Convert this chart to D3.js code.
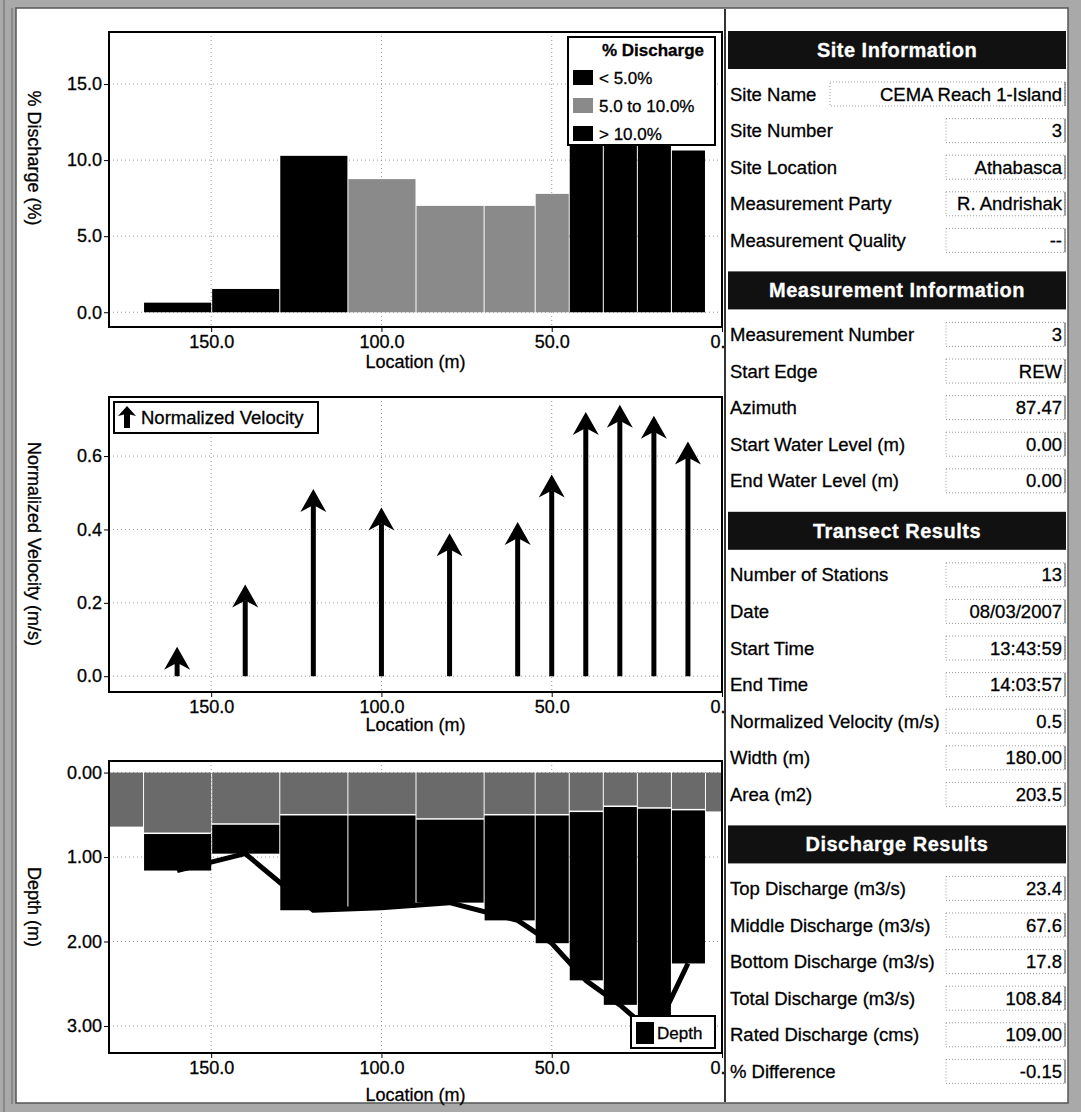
<!DOCTYPE html>
<html>
<head>
<meta charset="utf-8">
<script src="https://cdn.jsdelivr.net/npm/d3@7"></script>
<style>
  body { margin: 0; background: #fff; }
  text { font-family: "Liberation Sans", Arial, sans-serif; fill: #000; stroke: #000; stroke-width: 0.3px; }
</style>
</head>
<body>
<svg id="chart" width="1081" height="1112"></svg>
<script>
// station data (13 stations incl. the two edges)
const stations = [180, 160, 140, 120, 100, 80, 60, 50, 40, 30, 20, 10, 0];
const dischargePct = [null, 0.63, 1.53, 10.28, 8.75, 6.99, 6.99, 7.78, 13.9, 16.1, 16.4, 10.63, null];
const velocity = [null, 0.08, 0.25, 0.51, 0.46, 0.39, 0.42, 0.55, 0.72, 0.74, 0.71, 0.64, null];
const iceThickness = [0.64, 0.71, 0.60, 0.49, 0.49, 0.54, 0.49, 0.49, 0.45, 0.39, 0.41, 0.43, 0.46];
const depth = [null, 1.16, 0.96, 1.63, 1.60, 1.54, 1.75, 2.02, 2.46, 2.75, 3.10, 2.26, null];

const xTicks = [150, 100, 50, 0];
const dischargeTicks = [0, 5, 10, 15];
const velocityTicks = [0, 0.2, 0.4, 0.6];
const depthTicks = [0, 1, 2, 3];

const legendLabels = ["< 5.0%", "5.0 to 10.0%", "> 10.0%"];
const legendColors = ["#000", "#8a8a8a", "#000"];

const siteLabels = ["Site Name", "Site Number", "Site Location", "Measurement Party", "Measurement Quality"];
const siteValues = ["CEMA Reach 1-Island", "3", "Athabasca", "R. Andrishak", "--"];
const measLabels = ["Measurement Number", "Start Edge", "Azimuth", "Start Water Level (m)", "End Water Level (m)"];
const measValues = ["3", "REW", "87.47", "0.00", "0.00"];
const transectLabels = ["Number of Stations", "Date", "Start Time", "End Time", "Normalized Velocity (m/s)", "Width (m)", "Area (m2)"];
const transectValues = ["13", "08/03/2007", "13:43:59", "14:03:57", "0.5", "180.00", "203.5"];
const dischargeLabels = ["Top Discharge (m3/s)", "Middle Discharge (m3/s)", "Bottom Discharge (m3/s)", "Total Discharge (m3/s)", "Rated Discharge (cms)", "% Difference"];
const dischargeValues = ["23.4", "67.6", "17.8", "108.84", "109.00", "-0.15"];

const svg = d3.select("#chart");
const W = 1081, H = 1112;

// window-like border
svg.append("rect").attr("width", W).attr("height", H).attr("fill", "#a9a9a9");
svg.append("rect").attr("x", 16).attr("y", 8).attr("width", 1052).attr("height", 1095)
    .attr("fill", "#fff").attr("stroke", "#555").attr("stroke-width", 1.5);
svg.append("line").attr("x1", 4).attr("x2", 4).attr("y1", 0).attr("y2", H).attr("stroke", "#666");
svg.append("line").attr("x1", 12).attr("x2", 12).attr("y1", 8).attr("y2", H - 8).attr("stroke", "#666");

const x = d3.scaleLinear().domain([180, 0]).range([109, 722]);
const n = stations.length;
const leftOf = i => i === 0 ? stations[0] : (stations[i - 1] + stations[i]) / 2;
const rightOf = i => i === n - 1 ? stations[n - 1] : (stations[i] + stations[i + 1]) / 2;

const rows = stations.map((s, i) => ({
    s, i, left: leftOf(i), right: rightOf(i),
    q: dischargePct[i], v: velocity[i], ice: iceThickness[i], d: depth[i]
}));

const xFmt = d => d === 0 ? "0." : d3.format(".1f")(d);

function drawFrame(g, y, top, bottom, yTicks, yFmt, yTitle, titleY, xTitleY) {
    // grid
    g.selectAll("line.hgrid").data(yTicks).enter().append("line")
        .attr("x1", x.range()[0]).attr("x2", x.range()[1])
        .attr("y1", d => y(d)).attr("y2", d => y(d))
        .attr("stroke", "#999").attr("stroke-dasharray", "1,3");
    g.selectAll("line.vgrid").data(xTicks.filter(d => d !== 0)).enter().append("line")
        .attr("x1", d => x(d)).attr("x2", d => x(d))
        .attr("y1", top).attr("y2", bottom)
        .attr("stroke", "#999").attr("stroke-dasharray", "1,3");

    const ya = g.append("g").attr("transform", `translate(${x.range()[0]},0)`)
        .call(d3.axisLeft(y).tickValues(yTicks).tickSize(5).tickPadding(2).tickFormat(d3.format(yFmt)));
    const xa = g.append("g").attr("transform", `translate(0,${bottom})`)
        .call(d3.axisBottom(x).tickValues(xTicks).tickSize(5).tickPadding(3).tickFormat(xFmt));
    [ya, xa].forEach(a => {
        a.select(".domain").remove();
        a.selectAll("text").style("font-size", "18px").style("font-family", '"Liberation Sans", Arial, sans-serif');
        a.selectAll("line").attr("stroke", "#000");
    });
    // the "0." label sits against the info panel
    xa.selectAll(".tick").filter(d => d === 0).select("text")
        .attr("text-anchor", "end").attr("x", 3);

    g.append("text").attr("transform", `translate(34,${titleY}) rotate(90)`)
        .attr("text-anchor", "middle").attr("dominant-baseline", "central")
        .style("font-size", "18px").text(yTitle);
    g.append("text").attr("x", (x.range()[0] + x.range()[1]) / 2).attr("y", xTitleY)
        .attr("text-anchor", "middle").attr("dominant-baseline", "central")
        .style("font-size", "18px").text("Location (m)");
}

function clipFor(id, top, bottom) {
    svg.append("clipPath").attr("id", id).append("rect")
        .attr("x", x.range()[0]).attr("y", top)
        .attr("width", x.range()[1] - x.range()[0]).attr("height", bottom - top);
}

function border(g, top, bottom) {
    g.append("rect").attr("x", x.range()[0]).attr("y", top)
        .attr("width", x.range()[1] - x.range()[0]).attr("height", bottom - top)
        .attr("fill", "none").attr("stroke", "#000").attr("stroke-width", 2);
}

// ---------- % discharge ----------
const t1 = 32, b1 = 327;
const y1 = d3.scaleLinear().domain([-0.97, 18.42]).range([b1, t1]);
const colorQ = d3.scaleThreshold().domain([5, 10]).range(legendColors);
const g1 = svg.append("g");
drawFrame(g1, y1, t1, b1, dischargeTicks, ".1f", "% Discharge (%)", 158, 362);
clipFor("c1", t1, b1);
g1.append("g").attr("clip-path", "url(#c1)")
    .selectAll("rect").data(rows.filter(r => r.q != null)).enter().append("rect")
    .attr("x", r => x(r.left) + 1)
    .attr("width", r => x(r.right) - x(r.left) - 1)
    .attr("y", r => y1(r.q))
    .attr("height", r => y1(0) - y1(r.q))
    .attr("fill", r => colorQ(r.q));

const lg1 = g1.append("g");
lg1.append("rect").attr("x", 568).attr("y", 37).attr("width", 147).attr("height", 108)
    .attr("fill", "#fff").attr("stroke", "#000").attr("stroke-width", 2);
lg1.append("text").attr("x", 653).attr("y", 50).attr("text-anchor", "middle")
    .attr("dominant-baseline", "central").style("font-size", "17px").style("font-weight", "bold")
    .text("% Discharge");
legendLabels.forEach((l, i) => {
    const yy = 78 + i * 28;
    lg1.append("rect").attr("x", 573).attr("y", yy - 8).attr("width", 20).attr("height", 15)
        .attr("fill", legendColors[i]);
    lg1.append("text").attr("x", 599).attr("y", yy).attr("dominant-baseline", "central")
        .style("font-size", "17px").text(l);
});
border(g1, t1, b1);

// ---------- normalized velocity ----------
const t2 = 397, b2 = 692;
const y2 = d3.scaleLinear().domain([-0.043, 0.761]).range([b2, t2]);
const g2 = svg.append("g");
drawFrame(g2, y2, t2, b2, velocityTicks, ".1f", "Normalized Velocity (m/s)", 544, 725);
clipFor("c2", t2, b2);
const arrows = g2.append("g").attr("clip-path", "url(#c2)")
    .selectAll("g").data(rows.filter(r => r.v != null)).enter().append("g");
arrows.append("line")
    .attr("x1", r => x(r.s)).attr("x2", r => x(r.s))
    .attr("y1", y2(0)).attr("y2", r => y2(r.v) + 16)
    .attr("stroke", "#000").attr("stroke-width", 5);
arrows.append("path")
    .attr("d", r => {
        const cx = x(r.s), ty = y2(r.v);
        return `M${cx},${ty} L${cx + 13},${ty + 23} L${cx},${ty + 16} L${cx - 13},${ty + 23} Z`;
    })
    .attr("fill", "#000");

const lg2 = g2.append("g");
lg2.append("rect").attr("x", 114).attr("y", 402).attr("width", 204).attr("height", 31)
    .attr("fill", "#fff").attr("stroke", "#000").attr("stroke-width", 2);
lg2.append("path").attr("d", "M127,406 L136,416 L130,414.5 L130,428 L124,428 L124,414.5 L118,416 Z")
    .attr("fill", "#000");
lg2.append("text").attr("x", 141).attr("y", 417).attr("dominant-baseline", "central")
    .style("font-size", "18.5px").text("Normalized Velocity");
border(g2, t2, b2);

// ---------- depth ----------
const t3 = 761, b3 = 1053;
const y3 = d3.scaleLinear().domain([-0.137, 3.32]).range([t3, b3]);
const g3 = svg.append("g");
drawFrame(g3, y3, t3, b3, depthTicks, ".2f", "Depth (m)", 907, 1095);
clipFor("c3", t3, b3);
const cols = g3.append("g").attr("clip-path", "url(#c3)");
cols.selectAll("rect.ice").data(rows).enter().append("rect")
    .attr("x", r => x(r.left) + (r.i === 0 ? 0 : 1))
    .attr("width", r => x(r.right) - x(r.left) - (r.i === 0 ? 0 : 1))
    .attr("y", y3(0))
    .attr("height", r => y3(r.ice) - y3(0))
    .attr("fill", "#6a6a6a");
cols.selectAll("rect.water").data(rows.filter(r => r.d != null)).enter().append("rect")
    .attr("x", r => x(r.left) + 1)
    .attr("width", r => x(r.right) - x(r.left) - 1)
    .attr("y", r => y3(r.ice) + 1.5)
    .attr("height", r => y3(r.d) - y3(r.ice) - 1.5)
    .attr("fill", "#000");
cols.append("path")
    .datum(rows.filter(r => r.d != null))
    .attr("d", d3.line().x(r => x(r.s)).y(r => y3(r.d)))
    .attr("fill", "none").attr("stroke", "#000").attr("stroke-width", 5)
    .attr("stroke-linejoin", "round");

const lg3 = g3.append("g");
lg3.append("rect").attr("x", 631).attr("y", 1016).attr("width", 84).attr("height", 32)
    .attr("fill", "#fff").attr("stroke", "#000").attr("stroke-width", 2);
lg3.append("rect").attr("x", 636).attr("y", 1022).attr("width", 18).attr("height", 22).attr("fill", "#000");
lg3.append("text").attr("x", 657).attr("y", 1033).attr("dominant-baseline", "central")
    .style("font-size", "17px").text("Depth");
border(g3, t3, b3);

// ---------- info panel ----------
const panel = svg.append("g");
panel.append("rect").attr("x", 725).attr("y", 9).attr("width", 342).attr("height", 1093).attr("fill", "#fff");
panel.append("line").attr("x1", 725).attr("x2", 725).attr("y1", 9).attr("y2", 1102)
    .attr("stroke", "#333").attr("stroke-width", 2);

const sections = [
    { title: "Site Information", labels: siteLabels, values: siteValues },
    { title: "Measurement Information", labels: measLabels, values: measValues },
    { title: "Transect Results", labels: transectLabels, values: transectValues },
    { title: "Discharge Results", labels: dischargeLabels, values: dischargeValues }
];
const px0 = 728, px1 = 1066, rowStep = 36.6;
let cy = 50;
sections.forEach(sec => {
    panel.append("rect").attr("x", px0).attr("y", cy - 19).attr("width", px1 - px0).attr("height", 38)
        .attr("fill", "#111");
    panel.append("text").attr("x", (px0 + px1) / 2).attr("y", cy).attr("text-anchor", "middle")
        .attr("dominant-baseline", "central").style("font-size", "20px").style("font-weight", "bold")
        .style("letter-spacing", "0.5px").style("fill", "#fff").style("stroke", "#fff").text(sec.title);
    cy += 44;
    sec.labels.forEach((l, i) => {
        const boxX = sec.values[i].length > 14 ? 830 : 946;
        panel.append("rect").attr("x", boxX).attr("y", cy - 12).attr("width", 1065 - boxX).attr("height", 24)
            .attr("fill", "none").attr("stroke", "#999").attr("stroke-dasharray", "1,2");
        panel.append("line").attr("x1", 1065).attr("x2", 1065).attr("y1", cy - 12).attr("y2", cy + 12)
            .attr("stroke", "#555");
        panel.append("text").attr("x", 730).attr("y", cy).attr("dominant-baseline", "central")
            .style("font-size", "18.5px").text(l);
        panel.append("text").attr("x", 1062).attr("y", cy).attr("text-anchor", "end")
            .attr("dominant-baseline", "central").style("font-size", "18.5px").text(sec.values[i]);
        cy += rowStep;
    });
    cy += 50 - rowStep;
});
</script>
</body>
</html>
